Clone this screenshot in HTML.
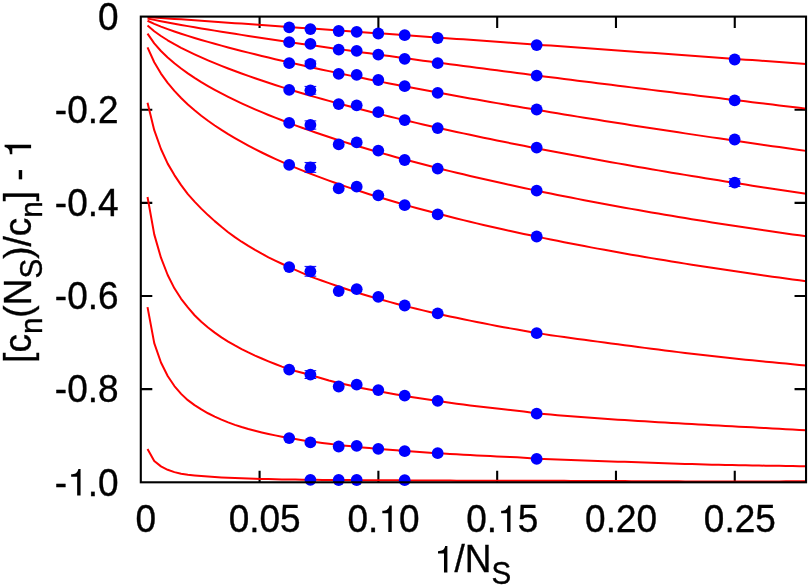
<!DOCTYPE html>
<html><head><meta charset="utf-8"><title>plot</title>
<style>html,body{margin:0;padding:0;background:#fff}svg{display:block}text{font-family:"Liberation Sans",sans-serif;fill:#000;white-space:pre;stroke:#000;stroke-width:0.35px}</style></head><body>
<svg style="will-change:transform" width="810" height="586" viewBox="0 0 810 586">
<rect x="0" y="0" width="810" height="586" fill="#fff"/>
<path d="M259.59,482.3v-11.5M259.59,16.6v11.5M378.39,482.3v-11.5M378.39,16.6v11.5M497.18,482.3v-11.5M497.18,16.6v11.5M615.97,482.3v-11.5M615.97,16.6v11.5M734.76,482.3v-11.5M734.76,16.6v11.5M140.8,109.74h11.5M806.04,109.74h-11.5M140.8,202.88h11.5M806.04,202.88h-11.5M140.8,296.02h11.5M806.04,296.02h-11.5M140.8,389.16h11.5M806.04,389.16h-11.5" stroke="#000" stroke-width="2.1" fill="none"/>
<g fill="none" stroke="#ff0000" stroke-width="2.0" stroke-linejoin="round" stroke-linecap="butt">
<polyline points="147.52,17.05 154.24,17.51 160.96,17.97 167.68,18.44 174.40,18.90 181.12,19.37 187.84,19.84 194.56,20.31 201.28,20.78 208.00,21.25 214.72,21.72 221.44,22.19 228.15,22.66 234.87,23.14 241.59,23.61 248.31,24.08 255.03,24.56 261.75,25.03 268.47,25.51 275.19,25.98 281.91,26.46 288.63,26.93 295.35,27.41 302.07,27.88 308.79,28.36 315.51,28.84 322.23,29.31 328.95,29.79 335.67,30.27 342.39,30.74 349.11,31.22 355.83,31.70 362.55,32.18 369.27,32.66 375.99,33.13 382.71,33.61 389.43,34.09 396.14,34.57 402.86,35.05 409.58,35.53 416.30,36.01 423.02,36.49 429.74,36.97 436.46,37.45 443.18,37.93 449.90,38.41 456.62,38.89 463.34,39.37 470.06,39.85 476.78,40.33 483.50,40.81 490.22,41.29 496.94,41.77 503.66,42.25 510.38,42.73 517.10,43.21 523.82,43.70 530.54,44.18 537.26,44.66 543.98,45.14 550.70,45.62 557.41,46.10 564.13,46.59 570.85,47.07 577.57,47.55 584.29,48.03 591.01,48.51 597.73,49.00 604.45,49.48 611.17,49.96 617.89,50.44 624.61,50.93 631.33,51.41 638.05,51.89 644.77,52.38 651.49,52.86 658.21,53.34 664.93,53.83 671.65,54.31 678.37,54.79 685.09,55.28 691.81,55.76 698.53,56.24 705.25,56.73 711.97,57.21 718.69,57.69 725.40,58.18 732.12,58.66 738.84,59.15 745.56,59.63 752.28,60.11 759.00,60.60 765.72,61.08 772.44,61.57 779.16,62.05 785.88,62.54 792.60,63.02 799.32,63.51 806.04,63.99"/>
<polyline points="147.52,18.40 154.24,19.87 160.96,21.23 167.68,22.52 174.40,23.76 181.12,24.96 187.84,26.14 194.56,27.29 201.28,28.42 208.00,29.53 214.72,30.63 221.44,31.71 228.15,32.78 234.87,33.83 241.59,34.88 248.31,35.91 255.03,36.94 261.75,37.95 268.47,38.96 275.19,39.96 281.91,40.95 288.63,41.94 295.35,42.92 302.07,43.90 308.79,44.86 315.51,45.83 322.23,46.78 328.95,47.74 335.67,48.68 342.39,49.63 349.11,50.57 355.83,51.50 362.55,52.43 369.27,53.36 375.99,54.28 382.71,55.20 389.43,56.11 396.14,57.03 402.86,57.94 409.58,58.84 416.30,59.74 423.02,60.64 429.74,61.54 436.46,62.43 443.18,63.32 449.90,64.21 456.62,65.10 463.34,65.98 470.06,66.86 476.78,67.74 483.50,68.61 490.22,69.49 496.94,70.36 503.66,71.23 510.38,72.09 517.10,72.96 523.82,73.82 530.54,74.68 537.26,75.54 543.98,76.40 550.70,77.25 557.41,78.10 564.13,78.96 570.85,79.80 577.57,80.65 584.29,81.50 591.01,82.34 597.73,83.18 604.45,84.03 611.17,84.86 617.89,85.70 624.61,86.54 631.33,87.37 638.05,88.21 644.77,89.04 651.49,89.87 658.21,90.70 664.93,91.52 671.65,92.35 678.37,93.18 685.09,94.00 691.81,94.82 698.53,95.64 705.25,96.46 711.97,97.28 718.69,98.10 725.40,98.91 732.12,99.73 738.84,100.54 745.56,101.35 752.28,102.16 759.00,102.97 765.72,103.78 772.44,104.59 779.16,105.40 785.88,106.20 792.60,107.01 799.32,107.81 806.04,108.62"/>
<polyline points="147.52,20.77 154.24,23.85 160.96,26.58 167.68,29.10 174.40,31.46 181.12,33.71 187.84,35.87 194.56,37.94 201.28,39.95 208.00,41.90 214.72,43.79 221.44,45.64 228.15,47.45 234.87,49.21 241.59,50.95 248.31,52.65 255.03,54.32 261.75,55.96 268.47,57.57 275.19,59.16 281.91,60.73 288.63,62.27 295.35,63.80 302.07,65.30 308.79,66.79 315.51,68.26 322.23,69.71 328.95,71.14 335.67,72.56 342.39,73.97 349.11,75.36 355.83,76.73 362.55,78.10 369.27,79.45 375.99,80.78 382.71,82.11 389.43,83.42 396.14,84.73 402.86,86.02 409.58,87.30 416.30,88.57 423.02,89.83 429.74,91.08 436.46,92.33 443.18,93.56 449.90,94.78 456.62,96.00 463.34,97.21 470.06,98.41 476.78,99.60 483.50,100.78 490.22,101.96 496.94,103.12 503.66,104.29 510.38,105.44 517.10,106.59 523.82,107.73 530.54,108.86 537.26,109.99 543.98,111.11 550.70,112.22 557.41,113.33 564.13,114.43 570.85,115.53 577.57,116.62 584.29,117.71 591.01,118.79 597.73,119.86 604.45,120.93 611.17,121.99 617.89,123.05 624.61,124.10 631.33,125.15 638.05,126.19 644.77,127.23 651.49,128.27 658.21,129.30 664.93,130.32 671.65,131.34 678.37,132.35 685.09,133.37 691.81,134.37 698.53,135.37 705.25,136.37 711.97,137.37 718.69,138.36 725.40,139.34 732.12,140.32 738.84,141.30 745.56,142.28 752.28,143.25 759.00,144.21 765.72,145.18 772.44,146.14 779.16,147.09 785.88,148.04 792.60,148.99 799.32,149.94 806.04,150.88"/>
<polyline points="147.52,25.51 154.24,31.21 160.96,36.01 167.68,40.27 174.40,44.16 181.12,47.77 187.84,51.16 194.56,54.37 201.28,57.44 208.00,60.36 214.72,63.18 221.44,65.89 228.15,68.52 234.87,71.06 241.59,73.53 248.31,75.93 255.03,78.26 261.75,80.54 268.47,82.77 275.19,84.95 281.91,87.08 288.63,89.16 295.35,91.21 302.07,93.21 308.79,95.18 315.51,97.12 322.23,99.02 328.95,100.89 335.67,102.73 342.39,104.55 349.11,106.33 355.83,108.09 362.55,109.82 369.27,111.53 375.99,113.22 382.71,114.89 389.43,116.53 396.14,118.15 402.86,119.75 409.58,121.34 416.30,122.90 423.02,124.45 429.74,125.98 436.46,127.49 443.18,128.99 449.90,130.47 456.62,131.93 463.34,133.38 470.06,134.82 476.78,136.24 483.50,137.65 490.22,139.04 496.94,140.43 503.66,141.80 510.38,143.15 517.10,144.50 523.82,145.83 530.54,147.15 537.26,148.46 543.98,149.76 550.70,151.05 557.41,152.33 564.13,153.59 570.85,154.85 577.57,156.10 584.29,157.34 591.01,158.56 597.73,159.78 604.45,160.99 611.17,162.20 617.89,163.39 624.61,164.57 631.33,165.75 638.05,166.92 644.77,168.08 651.49,169.23 658.21,170.37 664.93,171.51 671.65,172.64 678.37,173.76 685.09,174.88 691.81,175.98 698.53,177.08 705.25,178.18 711.97,179.27 718.69,180.35 725.40,181.42 732.12,182.49 738.84,183.55 745.56,184.60 752.28,185.65 759.00,186.70 765.72,187.73 772.44,188.76 779.16,189.79 785.88,190.81 792.60,191.82 799.32,192.83 806.04,193.83"/>
<polyline points="147.52,33.68 154.24,43.34 160.96,51.00 167.68,57.53 174.40,63.32 181.12,68.56 187.84,73.38 194.56,77.86 201.28,82.07 208.00,86.03 214.72,89.80 221.44,93.39 228.15,96.83 234.87,100.13 241.59,103.30 248.31,106.36 255.03,109.32 261.75,112.19 268.47,114.97 275.19,117.67 281.91,120.30 288.63,122.86 295.35,125.36 302.07,127.80 308.79,130.18 315.51,132.51 322.23,134.79 328.95,137.02 335.67,139.20 342.39,141.35 349.11,143.45 355.83,145.51 362.55,147.54 369.27,149.53 375.99,151.49 382.71,153.41 389.43,155.30 396.14,157.17 402.86,159.00 409.58,160.81 416.30,162.58 423.02,164.34 429.74,166.06 436.46,167.76 443.18,169.44 449.90,171.10 456.62,172.73 463.34,174.34 470.06,175.93 476.78,177.50 483.50,179.05 490.22,180.58 496.94,182.09 503.66,183.58 510.38,185.06 517.10,186.51 523.82,187.95 530.54,189.37 537.26,190.78 543.98,192.17 550.70,193.54 557.41,194.90 564.13,196.24 570.85,197.57 577.57,198.88 584.29,200.18 591.01,201.46 597.73,202.73 604.45,203.99 611.17,205.23 617.89,206.46 624.61,207.68 631.33,208.88 638.05,210.08 644.77,211.26 651.49,212.42 658.21,213.58 664.93,214.72 671.65,215.85 678.37,216.97 685.09,218.08 691.81,219.18 698.53,220.27 705.25,221.34 711.97,222.41 718.69,223.46 725.40,224.51 732.12,225.54 738.84,226.56 745.56,227.58 752.28,228.58 759.00,229.57 765.72,230.56 772.44,231.53 779.16,232.50 785.88,233.45 792.60,234.40 799.32,235.33 806.04,236.26"/>
<polyline points="147.52,47.31 154.24,62.26 160.96,73.54 167.68,82.85 174.40,90.89 181.12,98.00 187.84,104.42 194.56,110.29 201.28,115.71 208.00,120.76 214.72,125.49 221.44,129.95 228.15,134.16 234.87,138.17 241.59,141.99 248.31,145.64 255.03,149.14 261.75,152.51 268.47,155.75 275.19,158.87 281.91,161.89 288.63,164.81 295.35,167.63 302.07,170.38 308.79,173.04 315.51,175.64 322.23,178.16 328.95,180.62 335.67,183.01 342.39,185.35 349.11,187.63 355.83,189.86 362.55,192.04 369.27,194.18 375.99,196.27 382.71,198.32 389.43,200.32 396.14,202.29 402.86,204.22 409.58,206.11 416.30,207.97 423.02,209.80 429.74,211.59 436.46,213.36 443.18,215.09 449.90,216.79 456.62,218.47 463.34,220.12 470.06,221.75 476.78,223.35 483.50,224.93 490.22,226.48 496.94,228.01 503.66,229.52 510.38,231.00 517.10,232.47 523.82,233.91 530.54,235.34 537.26,236.75 543.98,238.13 550.70,239.50 557.41,240.85 564.13,242.19 570.85,243.51 577.57,244.81 584.29,246.09 591.01,247.36 597.73,248.61 604.45,249.85 611.17,251.07 617.89,252.28 624.61,253.48 631.33,254.66 638.05,255.82 644.77,256.98 651.49,258.12 658.21,259.25 664.93,260.36 671.65,261.46 678.37,262.55 685.09,263.63 691.81,264.70 698.53,265.75 705.25,266.80 711.97,267.83 718.69,268.85 725.40,269.86 732.12,270.86 738.84,271.85 745.56,272.83 752.28,273.79 759.00,274.75 765.72,275.70 772.44,276.64 779.16,277.57 785.88,278.49 792.60,279.40 799.32,280.30 806.04,281.19"/>
<polyline points="147.52,102.85 154.24,130.15 160.96,148.99 167.68,163.62 174.40,175.08 181.12,185.17 187.84,194.08 194.56,201.61 201.28,208.61 208.00,215.10 214.72,221.13 221.44,226.82 228.15,232.20 234.87,237.17 241.59,241.71 248.31,245.95 255.03,249.95 261.75,253.74 268.47,257.31 275.19,260.62 281.91,263.77 288.63,266.85 295.35,269.93 302.07,272.95 308.79,275.82 315.51,278.41 322.23,280.78 328.95,283.12 335.67,285.48 342.39,287.77 349.11,289.98 355.83,292.12 362.55,294.20 369.27,296.21 375.99,298.16 382.71,300.05 389.43,301.89 396.14,303.68 402.86,305.42 409.58,307.11 416.30,308.76 423.02,310.36 429.74,311.93 436.46,313.45 443.18,314.94 449.90,316.40 456.62,317.84 463.34,319.25 470.06,320.64 476.78,321.99 483.50,323.33 490.22,324.63 496.94,325.91 503.66,327.16 510.38,328.39 517.10,329.59 523.82,330.77 530.54,331.95 537.26,333.07 543.98,334.13 550.70,335.14 557.41,336.12 564.13,337.08 570.85,338.01 577.57,338.92 584.29,339.83 591.01,340.72 597.73,341.62 604.45,342.51 611.17,343.41 617.89,344.31 624.61,345.21 631.33,346.10 638.05,346.99 644.77,347.87 651.49,348.74 658.21,349.60 664.93,350.46 671.65,351.30 678.37,352.13 685.09,352.95 691.81,353.75 698.53,354.54 705.25,355.32 711.97,356.08 718.69,356.83 725.40,357.56 732.12,358.27 738.84,358.97 745.56,359.65 752.28,360.33 759.00,360.99 765.72,361.65 772.44,362.31 779.16,362.96 785.88,363.62 792.60,364.27 799.32,364.93 806.04,365.60"/>
<polyline points="147.52,196.96 154.24,234.36 160.96,257.71 167.68,275.00 174.40,288.33 181.12,298.81 187.84,307.46 194.56,315.26 201.28,321.81 208.00,327.53 214.72,332.66 221.44,337.32 228.15,341.56 234.87,345.45 241.59,349.04 248.31,352.40 255.03,355.56 261.75,358.53 268.47,361.34 275.19,364.05 281.91,366.60 288.63,368.96 295.35,371.00 302.07,372.77 308.79,374.53 315.51,376.50 322.23,378.58 328.95,380.50 335.67,382.18 342.39,383.77 349.11,385.30 355.83,386.76 362.55,388.16 369.27,389.51 375.99,390.82 382.71,392.07 389.43,393.29 396.14,394.47 402.86,395.61 409.58,396.72 416.30,397.79 423.02,398.84 429.74,399.86 436.46,400.85 443.18,401.82 449.90,402.76 456.62,403.67 463.34,404.56 470.06,405.41 476.78,406.25 483.50,407.06 490.22,407.84 496.94,408.61 503.66,409.35 510.38,410.07 517.10,410.77 523.82,411.54 530.54,412.56 537.26,413.40 543.98,414.02 550.70,414.61 557.41,415.18 564.13,415.73 570.85,416.27 577.57,416.78 584.29,417.28 591.01,417.77 597.73,418.25 604.45,418.73 611.17,419.19 617.89,419.64 624.61,420.09 631.33,420.52 638.05,420.95 644.77,421.36 651.49,421.77 658.21,422.17 664.93,422.56 671.65,422.95 678.37,423.33 685.09,423.71 691.81,424.08 698.53,424.45 705.25,424.81 711.97,425.18 718.69,425.54 725.40,425.90 732.12,426.27 738.84,426.63 745.56,427.00 752.28,427.37 759.00,427.73 765.72,428.10 772.44,428.46 779.16,428.83 785.88,429.19 792.60,429.55 799.32,429.91 806.04,430.27"/>
<polyline points="147.52,307.19 154.24,343.18 160.96,362.53 167.68,376.02 174.40,386.04 181.12,393.88 187.84,400.18 194.56,405.11 201.28,409.46 208.00,413.27 214.72,416.59 221.44,419.63 228.15,422.38 234.87,424.84 241.59,427.01 248.31,428.98 255.03,430.78 261.75,432.43 268.47,433.96 275.19,435.39 281.91,436.72 288.63,437.95 295.35,439.09 302.07,440.14 308.79,441.14 315.51,442.08 322.23,442.98 328.95,443.84 335.67,444.63 342.39,445.39 349.11,446.11 355.83,446.79 362.55,447.45 369.27,448.07 375.99,448.67 382.71,449.24 389.43,449.79 396.14,450.32 402.86,450.83 409.58,451.32 416.30,451.80 423.02,452.26 429.74,452.70 436.46,453.14 443.18,453.55 449.90,453.95 456.62,454.33 463.34,454.70 470.06,455.06 476.78,455.41 483.50,455.75 490.22,456.08 496.94,456.41 503.66,456.73 510.38,457.05 517.10,457.37 523.82,457.76 530.54,458.36 537.26,458.82 543.98,459.10 550.70,459.36 557.41,459.61 564.13,459.84 570.85,460.06 577.57,460.28 584.29,460.49 591.01,460.71 597.73,460.93 604.45,461.16 611.17,461.39 617.89,461.63 624.61,461.87 631.33,462.11 638.05,462.35 644.77,462.58 651.49,462.82 658.21,463.05 664.93,463.27 671.65,463.49 678.37,463.70 685.09,463.90 691.81,464.10 698.53,464.29 705.25,464.47 711.97,464.64 718.69,464.81 725.40,464.96 732.12,465.10 738.84,465.23 745.56,465.35 752.28,465.46 759.00,465.57 765.72,465.67 772.44,465.77 779.16,465.86 785.88,465.95 792.60,466.04 799.32,466.13 806.04,466.23"/>
<polyline points="147.52,449.00 154.24,461.00 160.96,466.40 167.68,469.80 174.40,472.10 181.12,473.80 187.84,474.70 194.56,475.40 201.28,476.01 208.00,476.56 214.72,477.03 221.44,477.41 228.15,477.74 234.87,478.04 241.59,478.30 248.31,478.54 255.03,478.76 261.75,478.95 268.47,479.11 275.19,479.25 281.91,479.38 288.63,479.50 295.35,479.61 302.07,479.70 308.79,479.79 315.51,479.85 322.23,479.90 328.95,479.93 335.67,479.98 342.39,480.04 349.11,480.09 355.83,480.14 362.55,480.18 369.27,480.22 375.99,480.26 382.71,480.29 389.43,480.32 396.14,480.35 402.86,480.37 409.58,480.39 416.30,480.41 423.02,480.43 429.74,480.45 436.46,480.48 443.18,480.53 449.90,480.58 456.62,480.63 463.34,480.68 470.06,480.70 476.78,480.71 483.50,480.72 490.22,480.73 496.94,480.74 503.66,480.75 510.38,480.76 517.10,480.77 523.82,480.78 530.54,480.79 537.26,480.80 543.98,480.81 550.70,480.83 557.41,480.85 564.13,480.86 570.85,480.89 577.57,480.91 584.29,480.93 591.01,480.96 597.73,480.99 604.45,481.02 611.17,481.05 617.89,481.08 624.61,481.12 631.33,481.15 638.05,481.18 644.77,481.21 651.49,481.24 658.21,481.27 664.93,481.30 671.65,481.33 678.37,481.36 685.09,481.39 691.81,481.41 698.53,481.43 705.25,481.45 711.97,481.47 718.69,481.48 725.40,481.49 732.12,481.49 738.84,481.49 745.56,481.49 752.28,481.48 759.00,481.47 765.72,481.45 772.44,481.43 779.16,481.40 785.88,481.36 792.60,481.31 799.32,481.26 806.04,481.20"/>
</g>
<path d="M310.4,61.00V66.60M304.54999999999995,61.00h11.7M304.54999999999995,66.60h11.7M310.4,86.40V94.20M304.54999999999995,86.40h11.7M304.54999999999995,94.20h11.7M310.4,120.90V129.10M304.54999999999995,120.90h11.7M304.54999999999995,129.10h11.7M310.4,162.45V172.35M304.54999999999995,162.45h11.7M304.54999999999995,172.35h11.7M310.4,266.40V276.20M304.54999999999995,266.40h11.7M304.54999999999995,276.20h11.7M310.4,370.70V378.50M304.54999999999995,370.70h11.7M304.54999999999995,378.50h11.7M734.66,178.80V186.40M728.81,178.80h11.7M728.81,186.40h11.7" stroke="#0000ff" stroke-width="1.0" fill="none"/>
<g fill="#0000ff">
<circle cx="289.19" cy="27.3" r="5.9"/>
<circle cx="310.4" cy="29.1" r="5.9"/>
<circle cx="338.69" cy="31.0" r="5.9"/>
<circle cx="356.69" cy="31.8" r="5.9"/>
<circle cx="378.29" cy="33.5" r="5.9"/>
<circle cx="404.68" cy="35.2" r="5.9"/>
<circle cx="437.68" cy="38.0" r="5.9"/>
<circle cx="536.68" cy="45.1" r="5.9"/>
<circle cx="734.66" cy="59.5" r="5.9"/>
<circle cx="289.19" cy="42.2" r="5.9"/>
<circle cx="310.4" cy="43.9" r="5.9"/>
<circle cx="338.69" cy="49.6" r="5.9"/>
<circle cx="356.69" cy="50.8" r="5.9"/>
<circle cx="378.29" cy="54.6" r="5.9"/>
<circle cx="404.68" cy="58.8" r="5.9"/>
<circle cx="437.68" cy="63.2" r="5.9"/>
<circle cx="536.68" cy="75.6" r="5.9"/>
<circle cx="734.66" cy="100.3" r="5.9"/>
<circle cx="289.19" cy="63.2" r="5.9"/>
<circle cx="310.4" cy="63.8" r="5.9"/>
<circle cx="338.69" cy="73.9" r="5.9"/>
<circle cx="356.69" cy="74.9" r="5.9"/>
<circle cx="378.29" cy="80.0" r="5.9"/>
<circle cx="404.68" cy="86.2" r="5.9"/>
<circle cx="437.68" cy="92.9" r="5.9"/>
<circle cx="536.68" cy="109.5" r="5.9"/>
<circle cx="734.66" cy="139.5" r="5.9"/>
<circle cx="289.19" cy="89.8" r="5.9"/>
<circle cx="310.4" cy="90.3" r="5.9"/>
<circle cx="338.69" cy="104.1" r="5.9"/>
<circle cx="356.69" cy="105.3" r="5.9"/>
<circle cx="378.29" cy="112.2" r="5.9"/>
<circle cx="404.68" cy="120.1" r="5.9"/>
<circle cx="437.68" cy="128.1" r="5.9"/>
<circle cx="536.68" cy="147.6" r="5.9"/>
<circle cx="734.66" cy="182.6" r="5.9"/>
<circle cx="289.19" cy="122.9" r="5.9"/>
<circle cx="310.4" cy="125.0" r="5.9"/>
<circle cx="338.69" cy="144.4" r="5.9"/>
<circle cx="356.69" cy="142.4" r="5.9"/>
<circle cx="378.29" cy="150.6" r="5.9"/>
<circle cx="404.68" cy="160" r="5.9"/>
<circle cx="437.68" cy="168.6" r="5.9"/>
<circle cx="536.68" cy="190.7" r="5.9"/>
<circle cx="289.19" cy="164.9" r="5.9"/>
<circle cx="310.4" cy="167.4" r="5.9"/>
<circle cx="338.69" cy="188.4" r="5.9"/>
<circle cx="356.69" cy="186.7" r="5.9"/>
<circle cx="378.29" cy="195.3" r="5.9"/>
<circle cx="404.68" cy="205.2" r="5.9"/>
<circle cx="437.68" cy="214.4" r="5.9"/>
<circle cx="536.68" cy="236.5" r="5.9"/>
<circle cx="289.19" cy="267.1" r="5.9"/>
<circle cx="310.4" cy="271.3" r="5.9"/>
<circle cx="338.69" cy="291.1" r="5.9"/>
<circle cx="356.69" cy="289.2" r="5.9"/>
<circle cx="378.29" cy="296.9" r="5.9"/>
<circle cx="404.68" cy="305.5" r="5.9"/>
<circle cx="437.68" cy="313.4" r="5.9"/>
<circle cx="536.68" cy="333.2" r="5.9"/>
<circle cx="289.19" cy="369.6" r="5.9"/>
<circle cx="310.4" cy="374.6" r="5.9"/>
<circle cx="338.69" cy="386.5" r="5.9"/>
<circle cx="356.69" cy="384.7" r="5.9"/>
<circle cx="378.29" cy="390.1" r="5.9"/>
<circle cx="404.68" cy="395.6" r="5.9"/>
<circle cx="437.68" cy="400.8" r="5.9"/>
<circle cx="536.68" cy="413.7" r="5.9"/>
<circle cx="289.19" cy="438.1" r="5.9"/>
<circle cx="310.4" cy="442.4" r="5.9"/>
<circle cx="338.69" cy="446.5" r="5.9"/>
<circle cx="356.69" cy="445.8" r="5.9"/>
<circle cx="378.29" cy="448.8" r="5.9"/>
<circle cx="404.68" cy="451.2" r="5.9"/>
<circle cx="437.68" cy="453.2" r="5.9"/>
<circle cx="536.68" cy="458.9" r="5.9"/>
<circle cx="310.4" cy="479.8" r="5.9"/>
<circle cx="338.69" cy="480" r="5.9"/>
<circle cx="356.69" cy="480" r="5.9"/>
<circle cx="404.68" cy="480.2" r="5.9"/>
</g>
<rect x="140.8" y="16.6" width="665.24" height="465.70" fill="none" stroke="#000" stroke-width="2.1"/>
<g class="t">
<text transform="translate(135.61,532.00) scale(1,1.04)" font-size="37.00">0</text>
<text transform="translate(228.69,532.00) scale(1,1.04)" font-size="37.00">0.05</text>
<text transform="translate(347.48,532.00) scale(1,1.04)" font-size="37.00">0.</text><path d="M391.73,532.00L388.33,532.00L388.33,513.20L382.33,513.20L382.33,510.76C384.26,510.65 385.74,510.36 386.62,509.91C388.03,509.17 389.07,507.58 389.55,505.51L391.73,505.51Z"/><text transform="translate(398.91,532.00) scale(1,1.04)" font-size="37.00">0</text>
<text transform="translate(466.27,532.00) scale(1,1.04)" font-size="37.00">0.</text><path d="M510.52,532.00L507.12,532.00L507.12,513.20L501.13,513.20L501.13,510.76C503.05,510.65 504.53,510.36 505.42,509.91C506.82,509.17 507.86,507.58 508.34,505.51L510.52,505.51Z"/><text transform="translate(517.71,532.00) scale(1,1.04)" font-size="37.00">5</text>
<text transform="translate(585.07,532.00) scale(1,1.04)" font-size="37.00">0.20</text>
<text transform="translate(703.86,532.00) scale(1,1.04)" font-size="37.00">0.25</text>
<text transform="translate(98.02,29.90) scale(1,1.04)" font-size="37.00">0</text>
<text transform="translate(54.84,123.04) scale(1,1.04)" font-size="37.00">-0.2</text>
<text transform="translate(54.84,216.18) scale(1,1.04)" font-size="37.00">-0.4</text>
<text transform="translate(54.84,309.32) scale(1,1.04)" font-size="37.00">-0.6</text>
<text transform="translate(54.84,402.46) scale(1,1.04)" font-size="37.00">-0.8</text>
<text transform="translate(54.84,495.60) scale(1,1.04)" font-size="37.00">-</text><path d="M80.56,495.60L77.15,495.60L77.15,476.80L71.16,476.80L71.16,474.36C73.08,474.25 74.56,473.96 75.45,473.51C76.86,472.77 77.89,471.18 78.38,469.11L80.56,469.11Z"/><text transform="translate(87.74,495.60) scale(1,1.04)" font-size="37.00">.0</text>
<path d="M447.39,572.40L443.99,572.40L443.99,553.60L438.00,553.60L438.00,551.16C439.92,551.05 441.40,550.75 442.29,550.31C443.69,549.57 444.73,547.98 445.21,545.91L447.39,545.91Z"/><text transform="translate(454.58,572.40) scale(1,1.04)" font-size="37.00">/N</text><text transform="translate(491.58,583.50) scale(1,1.04)" font-size="29.60">S</text>
<g transform="translate(31.1,362.9) rotate(-90)">
<text transform="translate(0.00,0.00) scale(1,1.04)" font-size="37.00">[c</text><text transform="translate(28.78,11.10) scale(1,1.04)" font-size="29.60">n</text><text transform="translate(45.24,0.00) scale(1,1.04)" font-size="37.00">(N</text><text transform="translate(84.28,11.10) scale(1,1.04)" font-size="29.60">S</text><text transform="translate(104.03,0.00) scale(1,1.04)" font-size="37.00">)/c</text><text transform="translate(145.13,11.10) scale(1,1.04)" font-size="29.60">n</text><text transform="translate(161.59,0.00) scale(1,1.04)" font-size="37.00">] - </text><path d="M218.14,0.00L214.74,0.00L214.74,-18.80L208.75,-18.80L208.75,-21.24C210.67,-21.35 212.15,-21.64 213.04,-22.09C214.44,-22.83 215.48,-24.42 215.96,-26.49L218.14,-26.49Z"/>
</g></g>
</svg></body></html>
